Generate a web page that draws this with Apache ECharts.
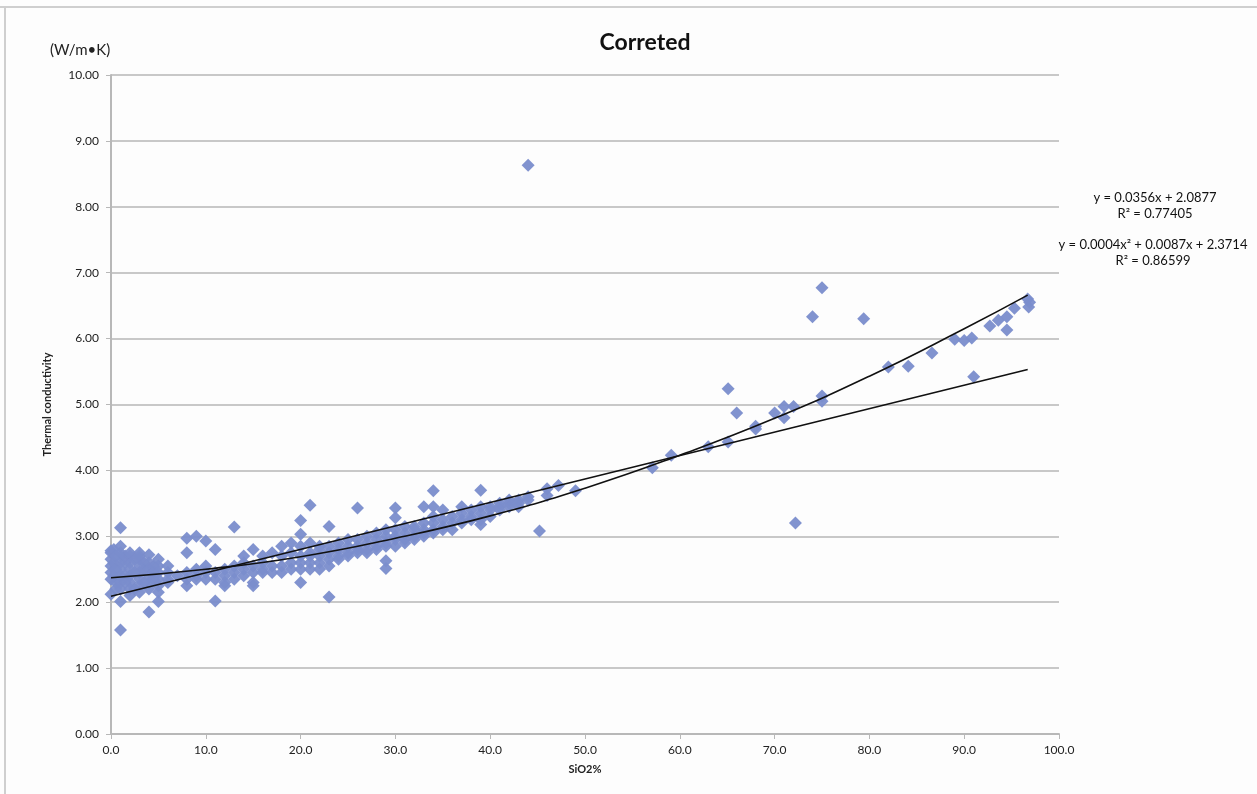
<!DOCTYPE html>
<html>
<head>
<meta charset="utf-8">
<script src="https://cdn.jsdelivr.net/npm/echarts@6/dist/echarts.min.js"></script>
<style>
html,body{margin:0;padding:0;background:#fdfdfd;}
#chart{width:1257px;height:794px;}
</style>
</head>
<body>
<div id="chart"></div>
<script>
// ---- Data ----
const chartTitle = 'Correted';
const xAxisName = 'SiO2%';
const yAxisName = 'Thermal conductivity';
const yUnit = '(W/m•K)';

// scatter samples: SiO2 % (x) and thermal conductivity (y)
const sio2 = [
  0,0,0,0,0,0,0,
  0.3,0.3,0.3,
  0.5,0.5,0.5,0.5,
  1,1,1,1,1,1,1,1,1,1,1,
  1.5,1.5,1.5,1.5,
  2,2,2,2,2,2,2,2,
  2.5,2.5,2.5,
  3,3,3,3,3,3,3,3,
  3.5,3.5,3.5,
  4,4,4,4,4,4,4,
  4.5,4.5,4.5,
  5,5,5,5,5,5,5,
  6,6,6,6,
  7,
  8,8,8,8,8,
  9,9,9,9,
  10,10,10,10,
  11,11,11,11,
  12,12,12,12,
  13,13,13,13,
  14,14,14,14,
  15,15,15,15,15,
  16,16,16,16,
  17,17,17,
  18,18,18,18,
  19,19,19,19,
  20,20,20,20,20,20,20,
  21,21,21,21,21,21,
  22,22,22,22,22,
  23,23,23,23,23,23,
  24,24,24,24,
  25,25,25,25,
  26,26,26,26,26,
  27,27,27,27,
  28,28,28,28,
  29,29,29,29,29,29,
  30,30,30,30,30,30,
  31,31,31,31,
  32,32,32,32,
  33,33,33,33,33,
  34,34,34,34,34,34,
  35,35,35,35,
  36,36,36,
  37,37,37,37,
  38,38,38,
  39,39,39,39,39,
  40,40,40,
  41,41,41,
  42,42,42,
  43,43,43,
  44,44,44,
  45.2,46,46,47.2,49,
  57.1,59.1,63,65.1,65.1,66,68,68,70,71,71,72,72.2,
  74,75,75,75,79.4,82,84.1,86.6,89,90,90.8,91,92.7,93.6,94.5,94.5,95.3,96.7,96.8,96.9
];
const conductivity = [
  2.12,2.35,2.45,2.55,2.65,2.75,2.78,
  2.6,2.4,2.8,
  2.5,2.7,2.3,2.2,
  3.13,2.85,2.7,2.6,2.5,2.4,2.3,2.2,2.01,1.58,2.75,
  2.6,2.4,2.3,2.7,
  2.7,2.6,2.5,2.4,2.3,2.2,2.1,2.75,
  2.45,2.65,2.2,
  2.75,2.65,2.55,2.45,2.35,2.25,2.15,2.7,
  2.5,2.3,2.6,
  2.72,2.6,2.5,2.4,2.3,2.2,1.85,
  2.55,2.35,2.45,
  2.65,2.55,2.45,2.35,2.25,2.15,2.01,
  2.55,2.45,2.35,2.3,
  2.4,
  2.97,2.75,2.45,2.35,2.25,
  3.0,2.5,2.4,2.35,
  2.93,2.45,2.35,2.55,
  2.8,2.45,2.35,2.02,
  2.5,2.4,2.25,2.3,
  3.14,2.45,2.55,2.35,
  2.7,2.5,2.4,2.6,
  2.8,2.55,2.45,2.3,2.25,
  2.6,2.5,2.45,2.7,
  2.75,2.55,2.45,
  2.85,2.7,2.55,2.45,
  2.9,2.6,2.5,2.75,
  3.24,3.03,2.85,2.7,2.6,2.5,2.3,
  3.47,2.9,2.75,2.6,2.5,2.7,
  2.85,2.7,2.6,2.5,2.8,
  3.15,2.85,2.75,2.65,2.55,2.08,
  2.9,2.8,2.7,2.65,
  2.95,2.85,2.75,2.7,
  3.43,2.95,2.85,2.8,2.75,
  3.0,2.9,2.8,2.75,
  3.05,2.95,2.85,2.8,
  3.1,3.0,2.9,2.85,2.63,2.51,
  3.43,3.28,3.1,3.0,2.95,2.85,
  3.15,3.05,2.95,2.9,
  3.15,3.1,3.0,2.95,
  3.45,3.2,3.1,3.05,3.0,
  3.69,3.45,3.3,3.2,3.1,3.05,
  3.4,3.25,3.15,3.1,
  3.3,3.2,3.1,
  3.45,3.35,3.25,3.2,
  3.4,3.3,3.25,
  3.70,3.45,3.35,3.25,3.18,
  3.45,3.4,3.3,
  3.5,3.45,3.4,
  3.55,3.5,3.45,
  3.55,3.5,3.45,
  3.6,3.55,8.63,
  3.08,3.62,3.72,3.77,3.69,
  4.04,4.23,4.36,4.43,5.24,4.87,4.63,4.67,4.87,4.80,4.97,4.97,3.20,
  6.33,6.77,5.05,5.13,6.30,5.57,5.58,5.78,5.99,5.97,6.01,5.42,6.19,6.28,6.33,6.13,6.46,6.60,6.48,6.55
];

// trend lines
const linearTrendX = [0, 96.7];
const linearTrendY = [2.09, 5.53];
const quadTrendX = [0, 10, 20, 30, 40, 50, 60, 70, 80, 90, 96.7];
const quadTrendY = [2.37, 2.50, 2.69, 2.97, 3.31, 3.73, 4.23, 4.79, 5.43, 6.15, 6.66];

const linearLabel = ['y = 0.0356x + 2.0877', 'R² = 0.77405'];
const quadLabel = ['y = 0.0004x² + 0.0087x + 2.3714', 'R² = 0.86599'];

// ---- build chart ----
const zip = (a, b) => a.map((v, i) => [v, b[i]]);
const font = 'Lato, "Open Sans", sans-serif';
const chart = echarts.init(document.getElementById('chart'));
chart.setOption({
  backgroundColor: '#fdfdfd',
  animation: false,
  title: {
    text: chartTitle,
    left: 640, top: 26, textAlign: 'center',
    textStyle: {fontFamily: font, fontSize: 23, fontWeight: 'bold', color: '#111'}
  },
  grid: {left: 111, right: 198, top: 75, bottom: 60},
  xAxis: {
    type: 'value', min: 0, max: 100, interval: 10,
    name: xAxisName, nameLocation: 'middle', nameGap: 30,
    nameTextStyle: {fontFamily: font, fontSize: 11, fontWeight: 'bold', color: '#222'},
    axisLine: {lineStyle: {color: '#b8b8b8', width: 2}},
    axisTick: {show: true, length: 5, lineStyle: {color: '#b8b8b8', width: 1}},
    axisLabel: {formatter: v => v.toFixed(1), fontFamily: font, fontSize: 12, color: '#222', margin: 10},
    splitLine: {show: false}
  },
  yAxis: {
    type: 'value', min: 0, max: 10, interval: 1,
    name: yAxisName, nameLocation: 'middle', nameGap: 58, nameRotate: 90,
    nameTextStyle: {fontFamily: font, fontSize: 11, fontWeight: 'bold', color: '#222'},
    axisLine: {show: true, lineStyle: {color: '#b8b8b8', width: 2}},
    axisTick: {show: true, length: 5, lineStyle: {color: '#b8b8b8', width: 1}},
    axisLabel: {formatter: v => v.toFixed(2), fontFamily: font, fontSize: 12, color: '#222', margin: 12},
    splitLine: {show: true, lineStyle: {color: '#c8c8c8', width: 2}}
  },
  series: [
    {
      type: 'scatter', symbol: 'diamond', symbolSize: 13,
      itemStyle: {color: '#7a8dcc', opacity: 0.95},
      data: zip(sio2, conductivity), z: 2
    },
    {
      type: 'line', data: zip(linearTrendX, linearTrendY), symbol: 'none',
      lineStyle: {color: '#111', width: 1.6}, z: 3
    },
    {
      type: 'line', data: zip(quadTrendX, quadTrendY), symbol: 'none', smooth: true,
      lineStyle: {color: '#111', width: 1.6}, z: 3
    }
  ],
  graphic: [
    {type: 'line', shape: {x1: 0, y1: 7, x2: 1257, y2: 7}, style: {stroke: '#cfcfcf', lineWidth: 2}},
    {type: 'line', shape: {x1: 5, y1: 7, x2: 5, y2: 794}, style: {stroke: '#cfcfcf', lineWidth: 2}},
    {type: 'text', left: 50, top: 43, style: {text: yUnit, font: '15px ' + font, fill: '#222'}},
    {type: 'text', x: 1155, y: 198, style: {text: linearLabel[0], font: '13px ' + font, fill: '#111', textAlign: 'center', textVerticalAlign: 'middle'}},
    {type: 'text', x: 1155, y: 214, style: {text: linearLabel[1], font: '13px ' + font, fill: '#111', textAlign: 'center', textVerticalAlign: 'middle'}},
    {type: 'text', x: 1153, y: 245, style: {text: quadLabel[0], font: '13px ' + font, fill: '#111', textAlign: 'center', textVerticalAlign: 'middle'}},
    {type: 'text', x: 1153, y: 261, style: {text: quadLabel[1], font: '13px ' + font, fill: '#111', textAlign: 'center', textVerticalAlign: 'middle'}}
  ]
});
</script>
</body>
</html>
